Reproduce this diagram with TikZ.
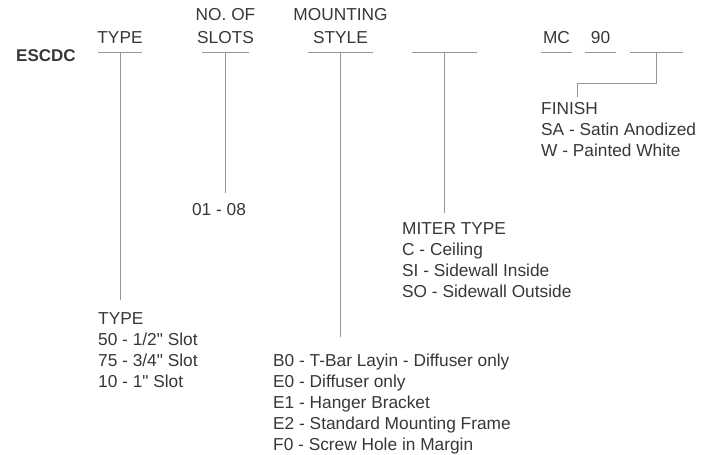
\documentclass[tikz,border=0pt]{standalone}
\usepackage{fontspec}
\setmainfont{Liberation Sans}[Ligatures=TeXOff]
\usetikzlibrary{positioning}
\definecolor{codegray}{RGB}{150,150,150}
\definecolor{codetext}{RGB}{55,55,55}

\begin{document}
\begin{tikzpicture}[x=1pt,y=-1pt,
    every node/.style={font=\fontsize{17.3}{21}\selectfont,text=codetext,inner sep=0pt},
    field/.style={minimum width=#1,minimum height=0pt},
    head/.style={anchor=base},
    list/.style={align=left,anchor=north west},
    lead/.style={codegray,line width=0.8pt}]
    \useasboundingbox (0,0) rectangle (705,455);

    % Model prefix
    \node[anchor=base west,font=\fontsize{17}{21}\bfseries\selectfont] (model) at (16,61) {ESCDC};

    % Blanks of the model code
    \node[field=44pt] (typeF) at (120,52) {};
    \node[field=47pt] (slotF) at (225.5,52) {};
    \node[field=65pt] (styleF) at (340.5,52) {};
    \node[field=65pt] (miterF) at (444.5,52) {};
    \node[field=31pt] (mcF) at (556.5,52) {};
    \node[field=31pt] (angF) at (600.5,52) {};
    \node[field=53pt] (finF) at (656.5,52) {};
    \foreach \f in {typeF,slotF,styleF,miterF,mcF,angF,finF}
        \draw[lead] (\f.west) -- (\f.east);

    % Headings over the blanks
    \node[head] (typeH) at (typeF |- 0,43) {TYPE};
    \node[head] (slotH) at (slotF |- 0,43) {SLOTS};
    \node[head] (slotH2) at (slotF |- 0,20) {NO. OF};
    \node[head] (styleH) at (styleF |- 0,43) {STYLE};
    \node[head] (styleH2) at (styleF |- 0,20) {MOUNTING};
    \node[head] (mcH) at (mcF |- 0,43) {MC};
    \node[head] (angH) at (angF |- 0,43) {90};

    % Option lists
    \node[list] (typeL) at (98,312) {TYPE\\50 - 1/2" Slot\\75 - 3/4" Slot\\10 - 1" Slot};
    \node[anchor=north] (slotL) at (219,203) {01 - 08};
    \node[list] (styleL) at (273,354) {B0 - T-Bar Layin - Diffuser only\\E0 - Diffuser only\\E1 - Hanger Bracket\\E2 - Standard Mounting Frame\\F0 - Screw Hole in Margin};
    \node[list] (miterL) at (402,222) {MITER TYPE\\C - Ceiling\\SI - Sidewall Inside\\SO - Sidewall Outside};
    \node[list] (finL) at (541,102) {FINISH\\SA - Satin Anodized\\W - Painted White};

    % Leaders
    \draw[lead,shorten >=12pt] (typeF) -- (typeF |- typeL.north);
    \draw[lead,shorten >=10pt] (slotF) -- (slotF |- slotL.north);
    \draw[lead,shorten >=17pt] (styleF) -- (styleF |- styleL.north);
    \draw[lead,shorten >=9pt] (miterF) -- (miterF |- miterL.north);
    \coordinate (finBend) at (577,83);
    \draw[lead,shorten >=5pt] (finF) |- (finBend) -- (finBend |- finL.north);
\end{tikzpicture}
\end{document}
